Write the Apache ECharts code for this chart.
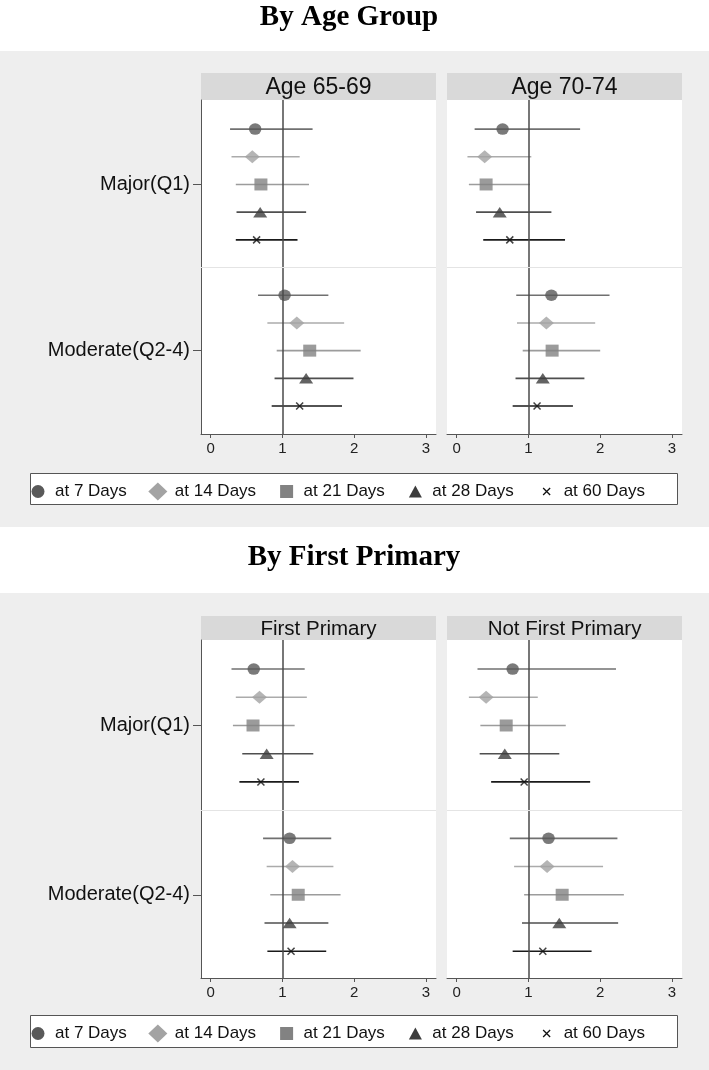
<!DOCTYPE html>
<html><head><meta charset="utf-8">
<script src="https://cdn.jsdelivr.net/npm/echarts@6/dist/echarts.min.js"></script>
<style>html,body{margin:0;padding:0;background:#fff}#c{width:709px;height:1070px}</style>
</head><body><div id="c"></div>
<script>
// ---------- DATA ----------
const timepoints = ['at 7 Days', 'at 14 Days', 'at 21 Days', 'at 28 Days', 'at 60 Days'];
const groups = ['Major(Q1)', 'Moderate(Q2-4)'];
const sectionTitles = ['By Age Group', 'By First Primary'];
const panelTitles = ['Age 65-69', 'Age 70-74', 'First Primary', 'Not First Primary'];
const xTicks = [0, 1, 2, 3];

// each array: 5 Major(Q1) values then 5 Moderate(Q2-4) values (7, 14, 21, 28, 60 days)
const age6569Est = [0.62, 0.58, 0.70, 0.69, 0.64, 1.03, 1.20, 1.38, 1.33, 1.24];
const age6569Lo  = [0.27, 0.29, 0.35, 0.36, 0.35, 0.66, 0.79, 0.92, 0.89, 0.85];
const age6569Hi  = [1.42, 1.24, 1.37, 1.33, 1.21, 1.64, 1.86, 2.09, 1.99, 1.83];

const age7074Est = [0.64, 0.39, 0.41, 0.60, 0.74, 1.32, 1.25, 1.33, 1.20, 1.12];
const age7074Lo  = [0.25, 0.15, 0.17, 0.27, 0.37, 0.83, 0.84, 0.92, 0.82, 0.78];
const age7074Hi  = [1.72, 1.04, 1.02, 1.32, 1.51, 2.13, 1.93, 2.00, 1.78, 1.62];

const firstEst = [0.60, 0.68, 0.59, 0.78, 0.70, 1.10, 1.14, 1.22, 1.10, 1.12];
const firstLo  = [0.29, 0.35, 0.31, 0.44, 0.40, 0.73, 0.78, 0.83, 0.75, 0.79];
const firstHi  = [1.31, 1.34, 1.17, 1.43, 1.23, 1.68, 1.71, 1.81, 1.64, 1.61];

const notFirstEst = [0.78, 0.41, 0.69, 0.67, 0.94, 1.28, 1.26, 1.47, 1.43, 1.20];
const notFirstLo  = [0.29, 0.17, 0.33, 0.32, 0.48, 0.74, 0.80, 0.94, 0.91, 0.78];
const notFirstHi  = [2.22, 1.13, 1.52, 1.43, 1.86, 2.24, 2.04, 2.33, 2.25, 1.88];

// ---------- STYLE / LAYOUT ----------
const FONT = 'Liberation Sans, Arial, sans-serif';
const markerColors = ['#595959', '#a3a3a3', '#828282', '#3c3c3c', '#111111'];
const lineColors   = ['#707070', '#ababab', '#9c9c9c', '#4f4f4f', '#1a1a1a'];
const crossPath = 'path://M0 0L10 10M10 0L0 10';
const markerSymbols = ['circle', 'diamond', 'rect', 'triangle', crossPath];
const markerSizes = [[12.5, 11.5], [15, 13], [13, 12], [14, 10.5], 7];
const legendIcons = [
  'path://M0 0M18 18M9 2.5A6.5 6.5 0 1 1 9 15.5A6.5 6.5 0 1 1 9 2.5Z',
  'path://M0 9L9 0.5L18 9L9 17.5Z',
  'path://M0 0M18 18M2.5 2.5L15.5 2.5L15.5 15.5L2.5 15.5Z',
  'path://M0 0M18 18M9 3L15.5 15L2.5 15Z',
  'path://M0 0M18 18M5.5 5.5L12.5 12.5M12.5 5.5L5.5 12.5'
];

const panels = [
  {est: age6569Est, lo: age6569Lo, hi: age6569Hi, left: 201, top: 100, height: 334, yMin: -1.05, yMax: 11.01, headTop: 73, headH: 27, headFont: 23, showY: true},
  {est: age7074Est, lo: age7074Lo, hi: age7074Hi, left: 447, top: 100, height: 334, yMin: -1.05, yMax: 11.01, headTop: 73, headH: 27, headFont: 23, showY: false},
  {est: firstEst, lo: firstLo, hi: firstHi, left: 201, top: 640, height: 338, yMin: -1.03, yMax: 10.95, headTop: 616, headH: 24, headFont: 20.5, showY: true},
  {est: notFirstEst, lo: notFirstLo, hi: notFirstHi, left: 447, top: 640, height: 338, yMin: -1.03, yMax: 10.95, headTop: 616, headH: 24, headFont: 20.5, showY: false}
];
const PW = 235;
const rowPos = (g, t) => g * 6 + t; // row position on the y axis

const grid = [], xAxis = [], yAxis = [], series = [], graphic = [];

graphic.push({type: 'rect', z: -10, silent: true, shape: {x: 0, y: 51, width: 709, height: 476}, style: {fill: '#eeeeee'}});
graphic.push({type: 'rect', z: -10, silent: true, shape: {x: 0, y: 593, width: 709, height: 477}, style: {fill: '#eeeeee'}});
graphic.push({type: 'text', z: 5, x: 349, y: 17.5, style: {text: sectionTitles[0], font: 'bold 29px "Liberation Serif", serif', fill: '#000', align: 'center', verticalAlign: 'middle'}});
graphic.push({type: 'text', z: 5, x: 354, y: 557.5, style: {text: sectionTitles[1], font: 'bold 29px "Liberation Serif", serif', fill: '#000', align: 'center', verticalAlign: 'middle'}});
// legend boxes
graphic.push({type: 'rect', z: -5, silent: true, shape: {x: 30.5, y: 473.5, width: 647, height: 31}, style: {fill: '#fff', stroke: '#555', lineWidth: 1}});
graphic.push({type: 'rect', z: -5, silent: true, shape: {x: 30.5, y: 1015.5, width: 647, height: 32}, style: {fill: '#fff', stroke: '#555', lineWidth: 1}});

panels.forEach((p, i) => {
  // plot background and header strip
  graphic.push({type: 'rect', z: -5, silent: true, shape: {x: p.left, y: p.top, width: PW, height: p.height}, style: {fill: '#ffffff'}});
  graphic.push({type: 'rect', z: -5, silent: true, shape: {x: p.left, y: p.headTop, width: PW, height: p.headH}, style: {fill: '#d9d9d9'}});
  graphic.push({type: 'text', z: 5, x: p.left + PW / 2, y: p.headTop + p.headH / 2 + 1, style: {text: panelTitles[i], font: p.headFont + 'px ' + FONT, fill: '#111', align: 'center', verticalAlign: 'middle'}});

  grid.push({left: p.left, top: p.top, width: PW, height: p.height, containLabel: false});
  xAxis.push({
    gridIndex: i, type: 'value', min: -0.135, max: 3.14, position: 'bottom',
    axisLine: {show: true, onZero: false, lineStyle: {color: '#555', width: 1}},
    axisTick: {show: true, length: 4, lineStyle: {color: '#555'}, customValues: xTicks},
    axisLabel: {show: true, fontSize: 15, color: '#222', fontFamily: FONT, margin: 7, customValues: xTicks},
    splitLine: {show: false}
  });
  yAxis.push({
    gridIndex: i, type: 'value', inverse: true, min: p.yMin, max: p.yMax, position: 'left',
    axisLine: {show: p.showY, onZero: false, lineStyle: {color: '#555', width: 1}},
    axisTick: {show: p.showY, length: 8, lineStyle: {color: '#555'}, customValues: [rowPos(0, 2), rowPos(1, 2)]},
    axisLabel: {show: p.showY, fontSize: 20, color: '#111', fontFamily: FONT, margin: 11,
      customValues: [rowPos(0, 2), rowPos(1, 2)],
      formatter: v => (v < 5 ? groups[0] : groups[1])},
    splitLine: {show: false}
  });

  timepoints.forEach((name, t) => {
    const ciData = [0, 1].map(g => [p.lo[g * 5 + t], p.hi[g * 5 + t], rowPos(g, t)]);
    const s = {
      type: 'custom', name: name, xAxisIndex: i, yAxisIndex: i, z: 2, silent: true,
      encode: {x: [0, 1], y: 2},
      data: ciData,
      renderItem: (params, api) => {
        const y = api.value(2);
        const a = api.coord([api.value(0), y]);
        const b = api.coord([api.value(1), y]);
        return {type: 'line', shape: {x1: a[0], y1: a[1], x2: b[0], y2: b[1]},
          style: {stroke: lineColors[t], lineWidth: 1.6}};
      }
    };
    if (t === 0) {
      s.markLine = {
        silent: true, symbol: 'none', label: {show: false}, animation: false,
        data: [
          {xAxis: 1, lineStyle: {color: '#4a4a4a', width: 1.5, type: 'solid'}},
          {yAxis: 5, lineStyle: {color: '#e4e4e4', width: 1, type: 'solid'}}
        ]
      };
    }
    series.push(s);
    series.push({
      type: 'scatter', name: name, xAxisIndex: i, yAxisIndex: i, z: 3,
      symbol: markerSymbols[t], symbolSize: markerSizes[t],
      itemStyle: t === 4 ? {color: 'none', borderColor: markerColors[t], borderWidth: 1.5} : {color: markerColors[t]},
      data: [0, 1].map(g => [p.est[g * 5 + t], rowPos(g, t)])
    });
  });
});

const legendData = timepoints.map((n, t) => ({
  name: n, icon: legendIcons[t],
  itemStyle: t === 4 ? {color: 'none', borderColor: '#111', borderWidth: 1.3} : {color: markerColors[t], borderWidth: 0}
}));
const legendBase = {
  orient: 'horizontal', left: 29, itemWidth: 24, itemHeight: 18, itemGap: 21.5, padding: 0,
  selectedMode: false, textStyle: {fontSize: 17, color: '#111', fontFamily: FONT},
  data: legendData
};

const chart = echarts.init(document.getElementById('c'), null, {renderer: 'canvas'});
chart.setOption({
  backgroundColor: '#ffffff',
  animation: false,
  graphic: {elements: graphic},
  legend: [Object.assign({top: 480}, legendBase), Object.assign({top: 1022}, legendBase)],
  grid, xAxis, yAxis, series
});
</script></body></html>
